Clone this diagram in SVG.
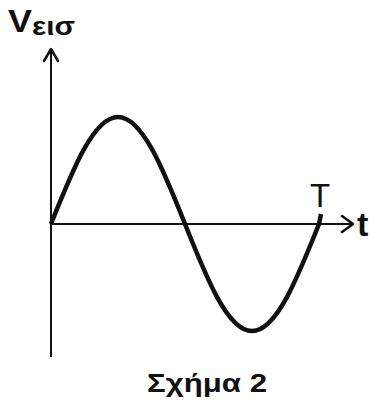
<svg xmlns="http://www.w3.org/2000/svg" width="374" height="408" viewBox="0 0 374 408">
<style>
.axis{stroke:#111;stroke-width:2;fill:none}
.head{stroke:#111;stroke-width:2.5;fill:none;stroke-linecap:round;stroke-linejoin:round}
.wave{stroke:#111;stroke-width:4.5;fill:none}
.lbl{font-family:"Liberation Sans",Arial,sans-serif;fill:#111}
</style>
<rect width="374" height="408" fill="#fff"/>
<g id="connectors">
<line class="axis" x1="51" y1="49" x2="51" y2="357"/>
<polyline class="head" points="44,61 51,49 58,61"/>
<line class="axis" x1="50" y1="224" x2="352" y2="224"/>
<polyline class="head" points="342,216 353,224 342,232"/>
</g>
<g id="wave">
<path class="wave" d="M51,224 C72.85,169.2 93.75,117 118,117 C142.25,117 163.15,169.2 185,224 C206.85,278.8 227.75,331 252,331 C276.25,331 297.15,278.8 319,224 L321,214"/>
</g>
<g id="label-v">
<text class="lbl" x="8" y="32" font-size="31" font-weight="bold" textLength="24" lengthAdjust="spacingAndGlyphs">V</text>
<text class="lbl" x="32" y="35" font-size="26" font-weight="bold" textLength="43" lengthAdjust="spacingAndGlyphs">εισ</text>
</g>
<g id="label-T">
<text class="lbl" x="320" y="207" font-size="33" text-anchor="middle">T</text>
</g>
<g id="label-t">
<text class="lbl" x="357" y="236" font-size="34" font-weight="bold">t</text>
</g>
<g id="caption">
<text class="lbl" x="147" y="392" font-size="25" font-weight="bold" textLength="120" lengthAdjust="spacingAndGlyphs">Σχήμα 2</text>
</g>
</svg>
